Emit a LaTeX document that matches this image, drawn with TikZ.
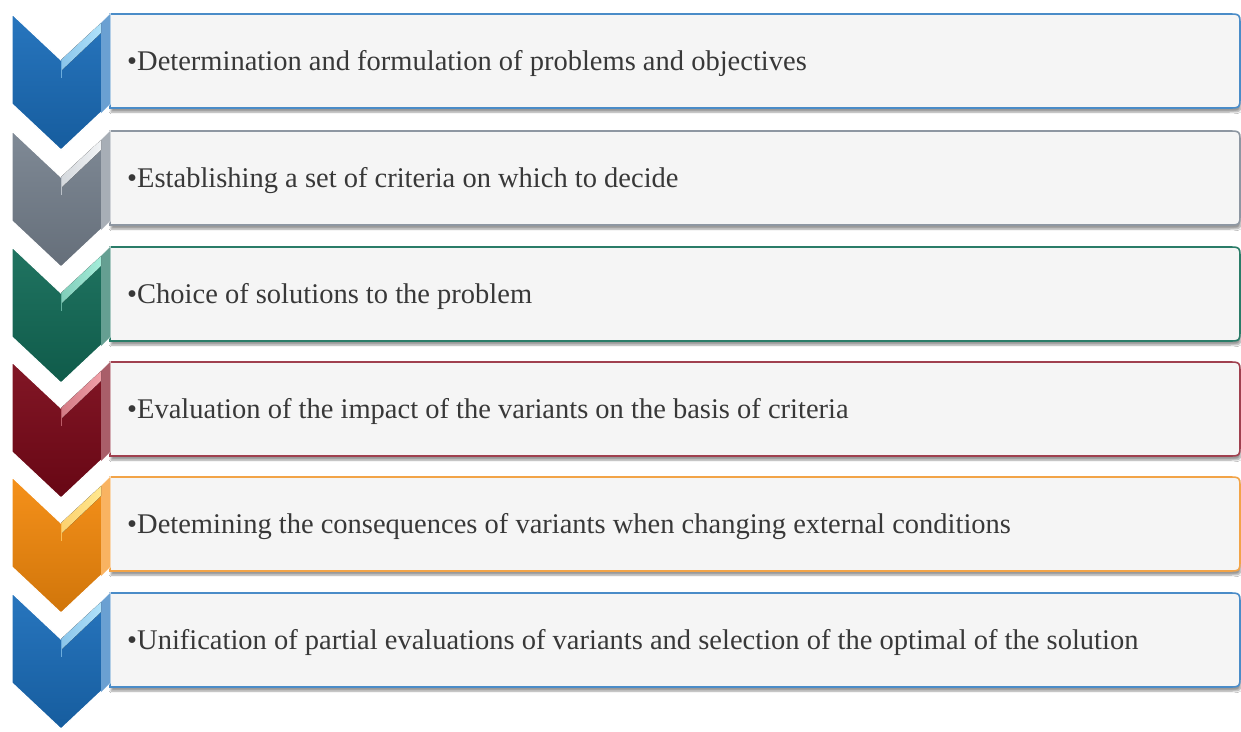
\documentclass[tikz,border=0pt]{standalone}
\usepackage{fontspec}
\setmainfont{Liberation Serif}
\usetikzlibrary{shadows.blur}
\definecolor{bluebase}{HTML}{1A6DBA}
\definecolor{bluelight}{HTML}{B0E2FA}
\definecolor{blueline}{HTML}{4A8CC8}
\definecolor{graybase}{HTML}{77828F}
\definecolor{graylight}{HTML}{F2F4F6}
\definecolor{grayline}{HTML}{8E97A2}
\definecolor{greenbase}{HTML}{126B57}
\definecolor{greenlight}{HTML}{A5EDDA}
\definecolor{greenline}{HTML}{2A7C68}
\definecolor{redbase}{HTML}{7A0818}
\definecolor{redlight}{HTML}{F0A0A8}
\definecolor{redline}{HTML}{A0404F}
\definecolor{orangebase}{HTML}{F58A0C}
\definecolor{orangelight}{HTML}{FFE890}
\definecolor{orangeline}{HTML}{F2A448}
\definecolor{boxfill}{HTML}{F5F5F5}
\definecolor{txtcol}{HTML}{383838}
\newcommand\stagerow[6]{%
  % box
  \draw[boxbody, draw=#4] (110,#1) -- (1228,#1) .. controls (1240,#1) .. (1240,#1+12)
     -- (1240,#1+82) .. controls (1240,#1+94) .. (1228,#1+94) -- (110,#1+94) -- cycle;
  % chevron
  \path[chevbody, top color=#2!94!white, bottom color=#2!85!black]
     (12,#1) -- (61,#1+46) -- (110,#1) -- (110,#1+90) -- (61,#1+136) -- (12,#1+90) -- cycle;
  \fill[#2!65!white] (101,#1+9) -- (110,#1) -- (110,#1+90) -- (101,#1+99) -- cycle;
  \fill[left color=#3!75!#2, right color=#3] (61,#1+46) -- (101,#1+9) -- (101,#1+19) -- (61,#1+57) -- cycle;
  \draw[#3!55!#2, line width=0.8pt] (61,#1+46) -- (61,#1+64);
  % text
  \node[steptext] (#5) at (127,#1+56) {•#6};
}
\begin{document}
\begin{tikzpicture}[x=1pt,y=-1pt,
  boxbody/.style={fill=boxfill, line width=1.6pt,
     blur shadow={shadow xshift=1pt, shadow yshift=-4pt, shadow blur steps=6, shadow opacity=40}},
  chevbody/.style={draw=white, line width=1.2pt},
  steptext/.style={anchor=base west, inner sep=0pt, font=\fontsize{28.5}{32}\selectfont, text=txtcol}]
\useasboundingbox[fill=white] (0,0) rectangle (1241,731);
\stagerow{14}{bluebase}{bluelight}{blueline}{s1}{Determination and formulation of problems and objectives}
\stagerow{131}{graybase}{graylight}{grayline}{s2}{Establishing a set of criteria on which to decide}
\stagerow{247}{greenbase}{greenlight}{greenline}{s3}{Choice of solutions to the problem}
\stagerow{362}{redbase}{redlight}{redline}{s4}{Evaluation of the impact of the variants on the basis of criteria}
\stagerow{477}{orangebase}{orangelight}{orangeline}{s5}{Detemining the consequences of variants when changing external conditions}
\stagerow{593}{bluebase}{bluelight}{blueline}{s6}{Unification of partial evaluations of variants and selection of the optimal of the solution}
\end{tikzpicture}
\end{document}
